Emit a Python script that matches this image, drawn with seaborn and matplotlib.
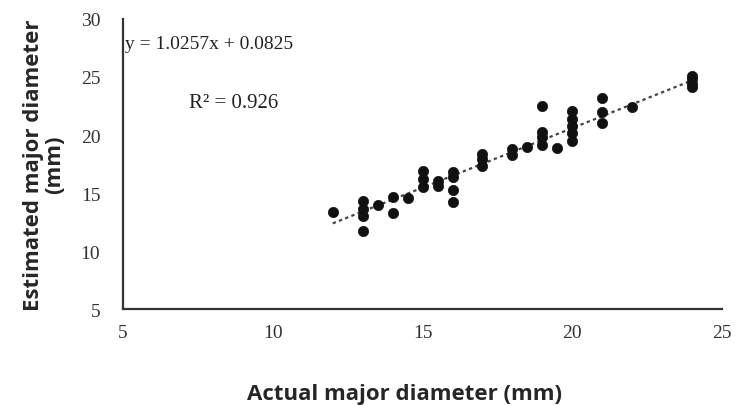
import numpy as np
import pandas as pd
import matplotlib.pyplot as plt
import seaborn as sns

# Valores
actual = [12, 13, 13, 13, 13, 13.5, 14, 14, 14.5,
          15, 15, 15, 15.5, 15.5, 16, 16, 16, 16,
          17, 17, 17, 18, 18, 18.5,
          19, 19, 19, 19, 19.5,
          20, 20, 20, 20, 20,
          21, 21, 21, 22, 24, 24, 24, 24]
estimated = [13.4, 14.3, 13.6, 13.0, 11.7, 14.0, 14.7, 13.3, 14.6,
             16.9, 16.2, 15.5, 16.0, 15.6, 16.8, 16.4, 15.3, 14.2,
             18.4, 17.9, 17.3, 18.8, 18.3, 19.0,
             22.5, 20.3, 19.8, 19.1, 18.9,
             22.1, 21.4, 20.8, 20.2, 19.5,
             23.2, 22.0, 21.0, 22.4, 25.1, 24.8, 24.4, 24.1]
slope, intercept = 1.0257, 0.0825
x_ticks = [5, 10, 15, 20, 25]
y_ticks = [5, 10, 15, 20, 25, 30]

df = pd.DataFrame({'actual': actual, 'estimated': estimated})
x_fit = np.array([min(actual), max(actual)])
fit = pd.DataFrame({'x': x_fit, 'y': slope * x_fit + intercept})

sns.set_style('white')
fig = plt.figure(figsize=(7.42, 4.06), dpi=100)
ax = fig.add_axes([0.166, 0.236, 0.807, 0.715])

sns.lineplot(data=fit, x='x', y='y', ax=ax, color='#444444', linestyle=(0, (1.5, 1.5)), linewidth=1.6)
sns.scatterplot(data=df, x='actual', y='estimated', ax=ax, color='#111111', s=55,
                edgecolor='#111111', linewidth=0.5, zorder=3)

ax.set_xlim(5, 25)
ax.set_ylim(5, 30)
ax.set_xticks(x_ticks)
ax.set_yticks(y_ticks)
ax.set_xticklabels([str(t) for t in x_ticks], family='Liberation Serif', fontsize=14, color='#333333')
ax.set_yticklabels([str(t) for t in y_ticks], family='Liberation Serif', fontsize=14, color='#333333')
ax.tick_params(direction='inout', length=5, width=1, color='#555555')
ax.tick_params(axis='y', pad=14)
ax.tick_params(axis='x', pad=8)

for side in ['top', 'right']:
    ax.spines[side].set_visible(False)
for side in ['left', 'bottom']:
    ax.spines[side].set_color('#333333')
    ax.spines[side].set_linewidth(1.6)

ax.set_xlabel('Actual major diameter (mm)', family='Open Sans', fontweight='bold', fontsize=16)
ax.xaxis.set_label_coords(0.469, -0.255)
ax.set_ylabel('Estimated major diameter\n(mm)', family='Open Sans', fontweight='bold', fontsize=16,
              linespacing=1.0)
ax.yaxis.set_label_coords(-0.097, 0.5)

ax.text(5.05, 27.9, 'y = 1.0257x + 0.0825', family='Liberation Serif', fontsize=14, color='#222222', va='center')
ax.text(7.2, 22.8, 'R\u00b2 = 0.926', family='Liberation Serif', fontsize=15, color='#222222', va='center')

plt.savefig('out.png', dpi=100)
plt.close()
